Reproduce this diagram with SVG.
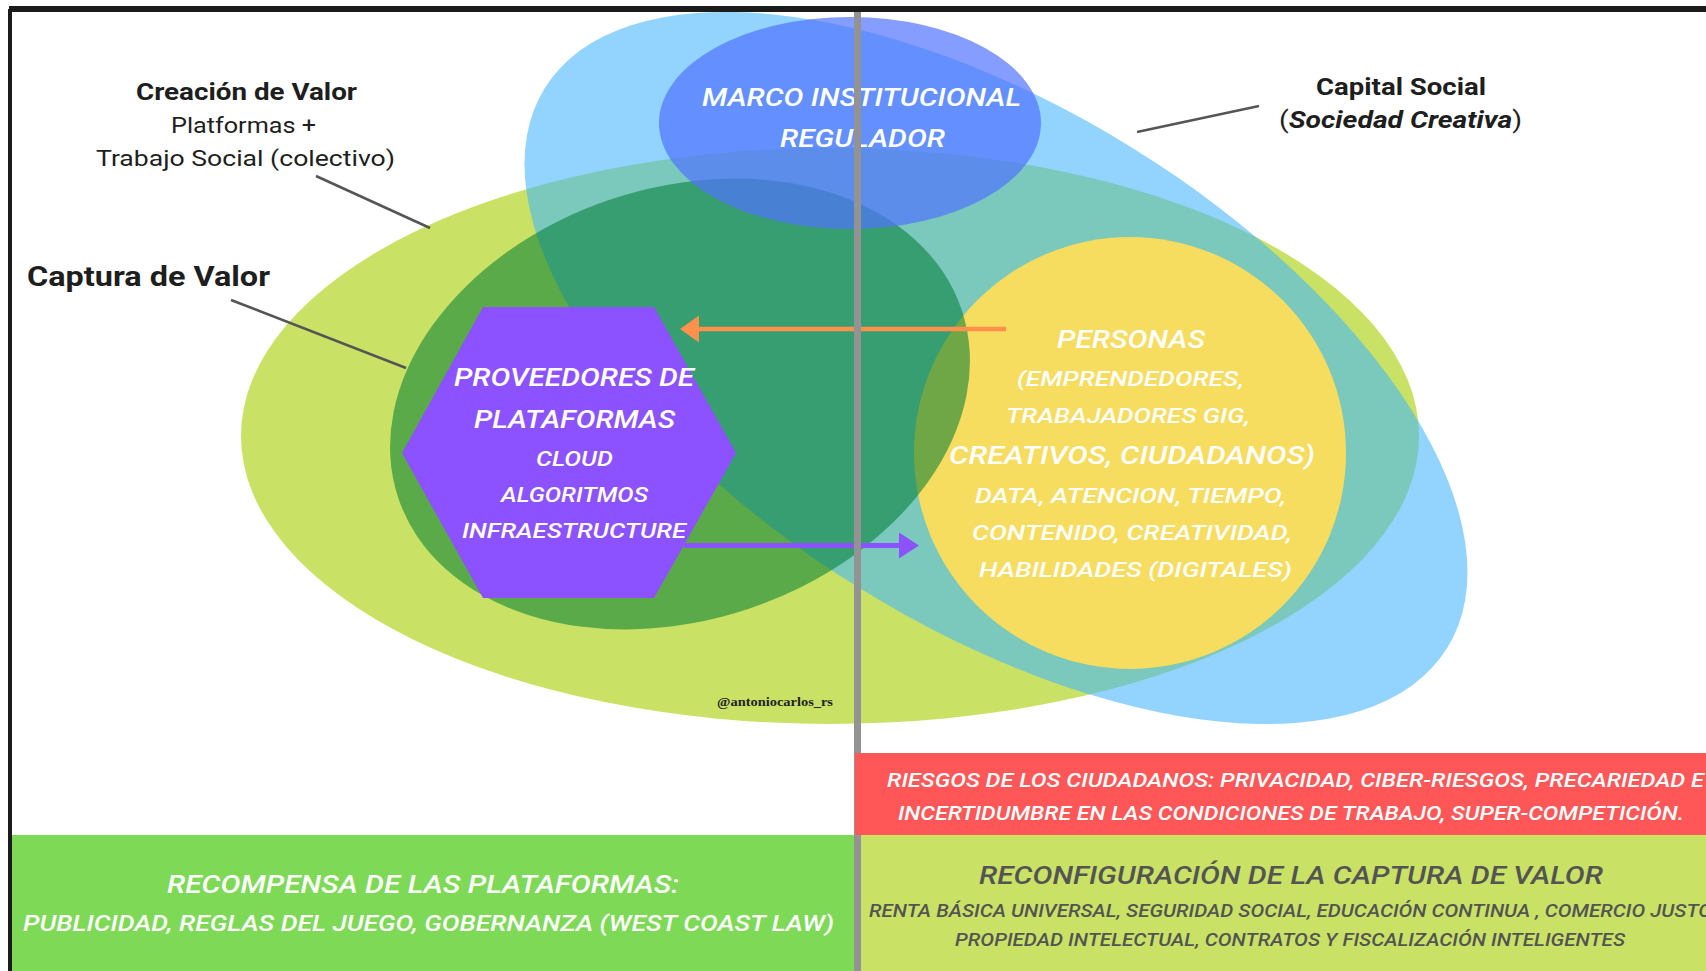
<svg xmlns="http://www.w3.org/2000/svg" width="1706" height="971" viewBox="0 0 1706 971">
<defs>
<style>
.lbl{font-family:Roboto,"Liberation Sans",sans-serif;fill:#1e1e1e}
.b{font-weight:700}
.cap{font-family:Roboto,"Liberation Sans",sans-serif;font-style:italic;font-weight:500;fill:#ffffff}
.dk{fill:#545454}
.lead{stroke:#555555;stroke-width:2.5;fill:none}
</style>
<marker id="ahO" viewBox="0 0 19 27" refX="0" refY="13.5" markerWidth="19" markerHeight="27" markerUnits="userSpaceOnUse" orient="auto"><path d="M0,0 L19,13.5 L0,27 Z" fill="#ff914d"/></marker>
<marker id="ahP" viewBox="0 0 20 26" refX="0" refY="13" markerWidth="20" markerHeight="26" markerUnits="userSpaceOnUse" orient="auto"><path d="M0,0 L20,13 L0,26 Z" fill="#8c52ff"/></marker>
</defs>
<rect width="1706" height="971" fill="#ffffff"/>

<g id="creacion-valor">
<ellipse cx="830" cy="436" rx="589" ry="288" fill="#c9e265"/>
</g>
<g id="capital-social">
<ellipse cx="996" cy="368" rx="531" ry="259" transform="rotate(31.8 996 368)" fill="rgb(65,180,253)" fill-opacity="0.574"/>
</g>
<g id="personas">
<circle cx="1130" cy="453" r="216" fill="#f6dc5f"/>
</g>
<g id="captura-valor">
<ellipse cx="680" cy="404" rx="297" ry="216" transform="rotate(-18.4 680 404)" fill="#007c33" fill-opacity="0.55"/>
</g>
<g id="marco-institucional">
<ellipse cx="850" cy="123" rx="191" ry="106" fill="rgb(80,115,254)" fill-opacity="0.7"/>
<text class="cap" x="702" y="106" font-size="26" textLength="319" lengthAdjust="spacingAndGlyphs">MARCO INSTITUCIONAL</text>
<text class="cap" x="780" y="147" font-size="26" textLength="165" lengthAdjust="spacingAndGlyphs">REGULADOR</text>
</g>
<g id="proveedores">
<polygon points="483,307 654,307 736,453 654,598 483,598 402,453" fill="#8c52ff"/>
<text class="cap" x="454" y="386" font-size="25" textLength="240" lengthAdjust="spacingAndGlyphs">PROVEEDORES DE</text>
<text class="cap" x="474" y="428" font-size="25" textLength="201" lengthAdjust="spacingAndGlyphs">PLATAFORMAS</text>
<text class="cap" x="536" y="466" font-size="21" textLength="77" lengthAdjust="spacingAndGlyphs">CLOUD</text>
<text class="cap" x="501" y="502" font-size="21" textLength="147" lengthAdjust="spacingAndGlyphs">ALGORITMOS</text>
<text class="cap" x="462" y="538" font-size="21" textLength="224" lengthAdjust="spacingAndGlyphs">INFRAESTRUCTURE</text>
</g>
<g id="personas-text">
<text class="cap" x="1057" y="348" font-size="25" textLength="148" lengthAdjust="spacingAndGlyphs">PERSONAS</text>
<text class="cap" x="1017" y="386" font-size="21" textLength="227" lengthAdjust="spacingAndGlyphs">(EMPRENDEDORES,</text>
<text class="cap" x="1006" y="423" font-size="21" textLength="244" lengthAdjust="spacingAndGlyphs">TRABAJADORES GIG,</text>
<text class="cap" x="949" y="464" font-size="25" textLength="366" lengthAdjust="spacingAndGlyphs">CREATIVOS, CIUDADANOS)</text>
<text class="cap" x="975" y="503" font-size="21" textLength="311" lengthAdjust="spacingAndGlyphs">DATA, ATENCION, TIEMPO,</text>
<text class="cap" x="972" y="540" font-size="21" textLength="320" lengthAdjust="spacingAndGlyphs">CONTENIDO, CREATIVIDAD,</text>
<text class="cap" x="979" y="577" font-size="21" textLength="313" lengthAdjust="spacingAndGlyphs">HABILIDADES (DIGITALES)</text>
</g>

<g id="labels">
<text class="lbl b" x="136" y="100" font-size="23" textLength="221" lengthAdjust="spacingAndGlyphs">Creación de Valor</text>
<text class="lbl" x="171" y="133" font-size="22" textLength="145" lengthAdjust="spacingAndGlyphs">Platformas +</text>
<text class="lbl" x="96" y="166" font-size="22" textLength="299" lengthAdjust="spacingAndGlyphs">Trabajo Social (colectivo)</text>
<text class="lbl b" x="27" y="286" font-size="27" textLength="243" lengthAdjust="spacingAndGlyphs">Captura de Valor</text>
<text class="lbl b" x="1316" y="95" font-size="23" textLength="170" lengthAdjust="spacingAndGlyphs">Capital Social</text>
<text class="lbl" x="1279" y="128" font-size="23" textLength="243" lengthAdjust="spacingAndGlyphs">(<tspan font-weight="700" font-style="italic">Sociedad Creativa</tspan>)</text>
<text x="717" y="706" font-family="'Liberation Serif',serif" font-weight="700" font-size="13" fill="#222222" textLength="116" lengthAdjust="spacingAndGlyphs">@antoniocarlos_rs</text>
</g>

<g id="connectors">
<line class="lead" x1="316" y1="176" x2="430" y2="228"/>
<line class="lead" x1="231" y1="300" x2="406" y2="368"/>
<line class="lead" x1="1259" y1="106" x2="1137" y2="132"/>
<line x1="1006" y1="329" x2="699" y2="329" stroke="#ff914d" stroke-width="4.5" marker-end="url(#ahO)"/>
<line x1="684" y1="545.5" x2="899" y2="545.5" stroke="#8c52ff" stroke-width="5" marker-end="url(#ahP)"/>
</g>

<g id="divider">
<rect x="854" y="6" width="7" height="965" fill="#939393"/>
</g>

<g id="recompensa">
<rect x="12" y="835" width="842" height="136" fill="#7ed957"/>
<text class="cap" x="167" y="893" font-size="25" textLength="512" lengthAdjust="spacingAndGlyphs">RECOMPENSA DE LAS PLATAFORMAS:</text>
<text class="cap" x="23" y="931" font-size="22" textLength="811" lengthAdjust="spacingAndGlyphs">PUBLICIDAD, REGLAS DEL JUEGO, GOBERNANZA (WEST COAST LAW)</text>
</g>
<g id="riesgos">
<rect x="855" y="753" width="851" height="82" fill="#ff5757"/>
<text class="cap" x="887" y="787" font-size="20" textLength="817" lengthAdjust="spacingAndGlyphs">RIESGOS DE LOS CIUDADANOS: PRIVACIDAD, CIBER-RIESGOS, PRECARIEDAD E</text>
<text class="cap" x="898" y="820" font-size="20" textLength="786" lengthAdjust="spacingAndGlyphs">INCERTIDUMBRE EN LAS CONDICIONES DE TRABAJO, SUPER-COMPETICIÓN.</text>
</g>
<g id="reconfiguracion">
<rect x="861" y="835" width="845" height="136" fill="#c9e265"/>
<text class="cap dk" x="979" y="884" font-size="25" textLength="624" lengthAdjust="spacingAndGlyphs">RECONFIGURACIÓN DE LA CAPTURA DE VALOR</text>
<text class="cap dk" x="869" y="917" font-size="18" textLength="843" lengthAdjust="spacingAndGlyphs">RENTA BÁSICA UNIVERSAL, SEGURIDAD SOCIAL, EDUCACIÓN CONTINUA , COMERCIO JUSTO</text>
<text class="cap dk" x="955" y="946" font-size="18" textLength="670" lengthAdjust="spacingAndGlyphs">PROPIEDAD INTELECTUAL, CONTRATOS Y FISCALIZACIÓN INTELIGENTES</text>
</g>

<g id="frame">
<rect x="9" y="6" width="1697" height="6" fill="#1b1b1b"/>
<rect x="8" y="9" width="4" height="962" fill="#1b1b1b"/>
</g>
</svg>
